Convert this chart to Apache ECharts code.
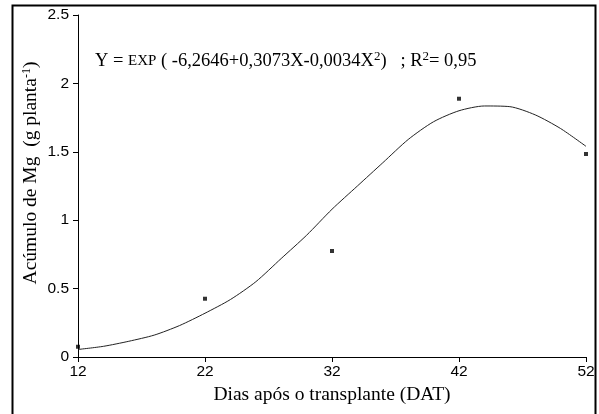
<!DOCTYPE html>
<html>
<head>
<meta charset="utf-8">
<script src="https://cdn.jsdelivr.net/npm/echarts@6/dist/echarts.min.js"></script>
<style>
  html, body { margin: 0; padding: 0; background: #fff; }
  #chart { width: 599px; height: 414px; }
</style>
</head>
<body>
<div id="chart"></div>
<script>
// Observed Mg accumulation per sampling day
const days = [12, 22, 32, 42, 52];
const observedMg = [0.075, 0.426, 0.775, 1.888, 1.484];

// Fitted exponential-quadratic curve, sampled along the x axis
const curveDays = [12, 14, 16, 18, 20, 22, 24, 26, 28, 30, 32, 34, 36, 38, 40, 42, 44, 46, 48, 50, 52];
const curveMg = [0.055, 0.078, 0.115, 0.16, 0.23, 0.32, 0.42, 0.55, 0.72, 0.89, 1.08, 1.25, 1.42, 1.59, 1.72, 1.80, 1.835, 1.83, 1.77, 1.67, 1.54];

// Axis ticks
const xTicks = [12, 22, 32, 42, 52];

const serif = '"Liberation Serif", "Times New Roman", serif';
const sans = '"Liberation Sans", Arial, sans-serif';

const chart = echarts.init(document.getElementById('chart'), null, { renderer: 'canvas' });

chart.setOption({
  animation: false,
  backgroundColor: '#fff',
  grid: { left: 78, right: 13, top: 15, bottom: 57, containLabel: false },
  xAxis: {
    type: 'value',
    min: 12,
    max: 52,
    name: 'Dias após o transplante (DAT)',
    nameLocation: 'middle',
    nameGap: 27,
    nameTextStyle: { fontFamily: serif, fontSize: 19.5, color: '#000' },
    axisLine: { show: true, lineStyle: { color: '#000', width: 1 } },
    axisTick: { show: true, length: 5, inside: false, customValues: xTicks, lineStyle: { color: '#000' } },
    axisLabel: { customValues: xTicks, fontFamily: sans, fontSize: 15.5, color: '#000', margin: 7 },
    splitLine: { show: false }
  },
  yAxis: {
    type: 'value',
    min: 0,
    max: 2.5,
    interval: 0.5,
    axisLine: { show: true, lineStyle: { color: '#000', width: 1 } },
    axisTick: { show: true, length: 5, lineStyle: { color: '#000' } },
    axisLabel: { fontFamily: sans, fontSize: 15.5, color: '#000', margin: 9 },
    splitLine: { show: false }
  },
  graphic: [
    {
      type: 'rect',
      shape: { x: 12.5, y: 5.5, width: 583, height: 420 },
      style: { fill: 'none', stroke: '#000', lineWidth: 2 },
      silent: true
    },
    {
      type: 'text',
      x: 95,
      y: 61,
      style: {
        text: '{a|Y = }{s|EXP}{a| ( -6,2646+0,3073X-0,0034X}{sup|2}{a|)   ; R}{sup|2}{a|= 0,95}',
        verticalAlign: 'middle',
        rich: {
          a: { fontFamily: serif, fontSize: 18.5, fill: '#000' },
          s: { fontFamily: serif, fontSize: 15, fill: '#000' },
          sup: { fontFamily: serif, fontSize: 13, fill: '#000', verticalAlign: 'top', padding: [0, 0, 9, 0] }
        }
      }
    },
    {
      type: 'text',
      x: 31,
      y: 173,
      rotation: Math.PI / 2,
      style: {
        text: '{a|Acúmulo de Mg  (g planta}{sup|-1}{a|)}',
        align: 'center',
        verticalAlign: 'middle',
        rich: {
          a: { fontFamily: serif, fontSize: 19.5, fill: '#000' },
          sup: { fontFamily: serif, fontSize: 12, fill: '#000', verticalAlign: 'top', padding: [0, 0, 9, 0] }
        }
      }
    }
  ],
  series: [
    {
      type: 'line',
      data: curveDays.map((d, i) => [d, curveMg[i]]),
      smooth: 0.25,
      showSymbol: false,
      lineStyle: { color: '#222', width: 1 },
      z: 2
    },
    {
      type: 'scatter',
      data: days.map((d, i) => [d, observedMg[i]]),
      symbol: 'rect',
      symbolSize: 4,
      itemStyle: { color: '#000' },
      z: 3
    }
  ]
});
</script>
</body>
</html>
